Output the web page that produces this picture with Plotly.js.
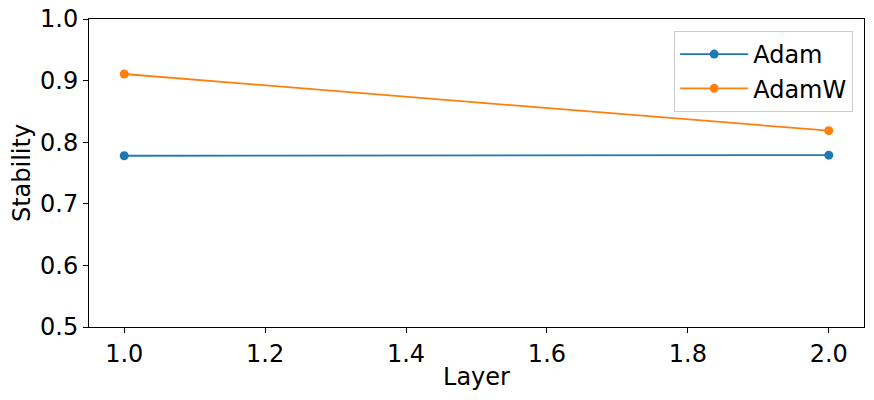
<!DOCTYPE html>
<html><head><meta charset="utf-8">
<script src="https://cdn.plot.ly/plotly-3.0.1.min.js"></script>
<style>body{margin:0;padding:0;background:#fff}#chart{width:874px;height:400px}</style>
</head><body><div id="chart"></div>
<script>
const layers = [1.0, 2.0];
const adam = [0.778, 0.779];
const adamw = [0.9107, 0.8187];
const xTicks = [1.0, 1.2, 1.4, 1.6, 1.8, 2.0];
const yTicks = [0.5, 0.6, 0.7, 0.8, 0.9, 1.0];

const font = {family: 'DejaVu Sans, sans-serif', size: 24, color: '#000'};
const traces = [
  {x: layers, y: adam, name: 'Adam', mode: 'lines+markers',
   line: {color: '#1f77b4', width: 1.8}, marker: {color: '#1f77b4', size: 9}},
  {x: layers, y: adamw, name: 'AdamW', mode: 'lines+markers',
   line: {color: '#ff7f0e', width: 1.8}, marker: {color: '#ff7f0e', size: 9}}
];
const axisCommon = {showgrid: false, zeroline: false, showline: true, mirror: true,
  linecolor: '#000', linewidth: 1, ticks: 'outside', ticklen: 5, tickwidth: 1, tickcolor: '#000',
  tickfont: font};
const layout = {
  width: 874, height: 400,
  margin: {l: 89, r: 10, t: 19, b: 73},
  paper_bgcolor: '#fff', plot_bgcolor: '#fff',
  font: font,
  xaxis: Object.assign({}, axisCommon, {range: [0.95, 2.05], tickvals: xTicks,
    ticktext: xTicks.map(v => v.toFixed(1)), title: {text: 'Layer', font: font, standoff: 1}}),
  yaxis: Object.assign({}, axisCommon, {range: [0.5, 1.0], tickvals: yTicks,
    ticktext: yTicks.map(v => v.toFixed(1)), title: {text: 'Stability', font: font, standoff: 2}}),
  legend: {x: 0.986, y: 0.961, xanchor: 'right', yanchor: 'top',
    bgcolor: 'rgba(255,255,255,0.8)', bordercolor: '#cccccc', borderwidth: 1,
    font: font, itemwidth: 68},
  showlegend: true
};
Plotly.newPlot('chart', traces, layout, {displayModeBar: false, staticPlot: true});
</script></body></html>
